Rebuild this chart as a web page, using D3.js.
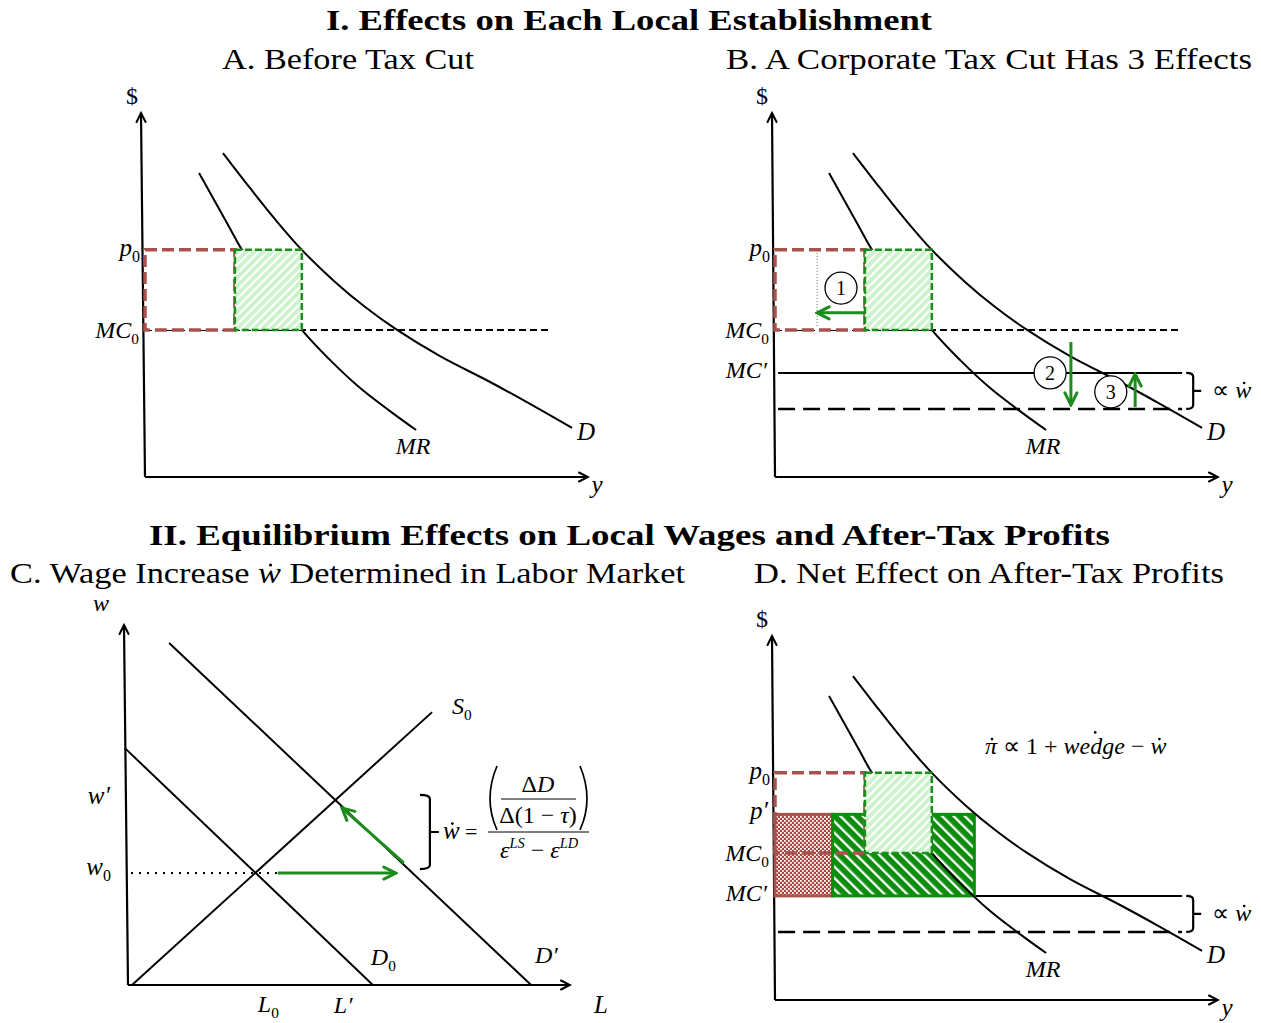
<!DOCTYPE html>
<html><head><meta charset="utf-8">
<script src="https://cdn.jsdelivr.net/npm/d3@7/dist/d3.min.js"></script>
<style>
html,body{margin:0;padding:0;background:#fff;}
svg text{font-family:"Liberation Serif","Times New Roman",serif;fill:#000;}
</style></head>
<body>
<svg id="chart" width="1261" height="1023" xmlns="http://www.w3.org/2000/svg"></svg>
<script>
// ================= DATA =================
const sectionTitles = ["I. Effects on Each Local Establishment", "II. Equilibrium Effects on Local Wages and After-Tax Profits"];
const panelTitles = ["A. Before Tax Cut", "B. A Corporate Tax Cut Has 3 Effects", "C. Wage Increase ", "w", " Determined in Labor Market", "D. Net Effect on After-Tax Profits"];

// product market (quantity y, price $), units 0..100
const mrCurve = [[12.2,83.5],[15.6,76.1],[19.0,68.7],[21.9,62.4],[35.4,40.4],[41.8,32.1],[48.5,24.5],[55.3,18.1],[61.2,12.9]];
const demandCurve = [[17.6,89.0],[23.7,79.4],[29.3,70.9],[35.4,62.4],[42.9,53.6],[49.7,46.7],[56.9,40.4],[66.6,33.2],[77.9,26.1],[86.9,20.1],[96.4,13.5]];
const priceP0 = 62.4, pricePprime = 51.0, costMC0 = 40.4, costMCprime = 28.6, costLow = 18.7;
const qRedEnd = 20.3, qGreenEnd = 35.4, qDotted = 9.5, qCheckEnd = 13.0, qNewEnd = 45.0;
const mc0LineEnd = 91.4, mcLinesStart = 0.7, mcLinesEnd = 91.9;
const circleNums = ["1","2","3"];
const circlePos = [[14.9,51.9],[62.1,28.6],[75.8,23.4]];
const arrow1 = [[20.5,45.1],[9.5,45.1]];
const arrow2 = [[66.8,37.1],[66.8,19.8]];
const arrow3 = [[81.3,19.2],[81.3,28.3]];
const braceQ = 94.4;

// labor market (L, w), units 0..100
const laborSupply = [[0.9,0],[68.8,75.8]];
const laborDemand0 = [[-0.7,65.8],[55.4,0]];
const laborDemand1 = [[9.3,95],[91.2,0]];
const wage0 = 31.1, wagePrime = 51.4, labor0 = 28.7, laborPrime = 46.8;
const wageDottedEnd = 62.2;
const wageArrowH = [[33.9,31.1],[60.6,31.1]];
const wageArrowD = [[62.4,33.9],[48.4,49.2]];
const braceL = 68.3, braceW = [52.8, 32.2];

// ================= SETUP =================
const RED = "#a8524c", GREEN = "#1c8c1c", DKGREEN = "#0d8d0d";
const svg = d3.select("#chart");
const defs = svg.append("defs");

function stripes(id, period, angle, bg, fg, w){
  const p = defs.append("pattern").attr("id",id).attr("patternUnits","userSpaceOnUse")
    .attr("width",period).attr("height",period).attr("patternTransform",`rotate(${angle})`);
  p.append("rect").attr("width",period).attr("height",period).attr("fill",bg);
  p.append("rect").attr("width",w).attr("height",period).attr("fill",fg);
}
stripes("lightHatch", 6, 45, "#cdf3cd", "#ffffff", 2);
stripes("darkHatch", 8, -45, DKGREEN, "#ffffff", 2.3);
const chk = defs.append("pattern").attr("id","checker").attr("patternUnits","userSpaceOnUse").attr("width",4).attr("height",4);
chk.append("rect").attr("width",4).attr("height",4).attr("fill","#a8473f");
chk.append("rect").attr("width",1.8).attr("height",1.8).attr("fill","#fff");
chk.append("rect").attr("x",2).attr("y",2).attr("width",1.8).attr("height",1.8).attr("fill","#fff");

function marker(id, color, size, sw){
  const m = defs.append("marker").attr("id",id).attr("viewBox",`0 0 ${size} ${size}`)
    .attr("refX",size-2).attr("refY",size/2).attr("markerWidth",size).attr("markerHeight",size)
    .attr("markerUnits","userSpaceOnUse").attr("orient","auto");
  m.append("path").attr("d",`M2,2 L${size-2},${size/2} L2,${size-2}`).attr("fill","none")
    .attr("stroke",color).attr("stroke-width",sw).attr("stroke-linecap","round");
}
marker("axArrow","#000",13,2);
marker("grArrow",GREEN,16,3);

function makeScales(xr, yr){
  return {x: d3.scaleLinear().domain([0,100]).range(xr), y: d3.scaleLinear().domain([0,100]).range(yr)};
}
const scA = makeScales([145,588],[477,113]);
const scB = makeScales([775,1218],[477,113]);
const scC = makeScales([128,570],[985,625]);
const scD = makeScales([775,1218],[1000,636]);

function label(x, y, parts, size, anchor){
  const t = svg.append("text").attr("x",x).attr("y",y).attr("font-size",size).attr("text-anchor",anchor||"start");
  let cur = 0;
  parts.forEach(([txt, style])=>{
    const ts = t.append("tspan").text(txt);
    let target = 0, fs = size;
    if (style.includes("i")) ts.attr("font-style","italic");
    if (style.includes("s")) {target = size*0.25; fs = size*0.64;}
    if (style.includes("^")) {target = -size*0.42; fs = size*0.6;}
    ts.attr("font-size", fs);
    if (target !== cur) ts.attr("dy", target-cur);
    cur = target;
  });
  return t;
}
function addDot(t, idx, baseline, size, up, shift){
  const e = t.node().getExtentOfChar(idx);
  svg.append("circle").attr("cx", e.x + e.width/2 + (shift||0)).attr("cy", baseline - up*size)
    .attr("r", Math.max(1.2,size*0.055)).attr("fill","#000");
}
function axes(sc, tilt){
  svg.append("line").attr("x1",sc.x(0)).attr("y1",sc.y(0)).attr("x2",sc.x(0)-tilt).attr("y2",sc.y(100))
    .attr("stroke","#000").attr("stroke-width",2.2).attr("marker-end","url(#axArrow)");
  svg.append("line").attr("x1",sc.x(0)).attr("y1",sc.y(0)).attr("x2",sc.x(100)).attr("y2",sc.y(0))
    .attr("stroke","#000").attr("stroke-width",2.2).attr("marker-end","url(#axArrow)");
}
function curve(sc, pts, linear){
  const gen = d3.line().x(d=>sc.x(d[0])).y(d=>sc.y(d[1])).curve(linear ? d3.curveLinear : d3.curveCatmullRom.alpha(0.5));
  svg.append("path").attr("d",gen(pts)).attr("fill","none").attr("stroke","#000").attr("stroke-width",2);
}
function hline(sc, x0, x1, yv, dash, w){
  svg.append("line").attr("x1",sc.x(x0)).attr("x2",sc.x(x1)).attr("y1",sc.y(yv)).attr("y2",sc.y(yv))
    .attr("stroke","#000").attr("stroke-width",w||2).attr("stroke-dasharray",dash||null);
}
function box(sc, x0, x1, y0, y1, fill, stroke, sw, dash){
  svg.append("rect").attr("x",sc.x(x0)).attr("y",sc.y(y1)).attr("width",sc.x(x1)-sc.x(x0)).attr("height",sc.y(y0)-sc.y(y1))
    .attr("fill",fill).attr("stroke",stroke).attr("stroke-width",sw).attr("stroke-dasharray",dash||null);
}
function garrow(sc, pts){
  svg.append("line").attr("x1",sc.x(pts[0][0])).attr("y1",sc.y(pts[0][1])).attr("x2",sc.x(pts[1][0])).attr("y2",sc.y(pts[1][1]))
    .attr("stroke",GREEN).attr("stroke-width",3).attr("marker-end","url(#grArrow)");
}
function circ(sc, p, n){
  svg.append("circle").attr("cx",sc.x(p[0])).attr("cy",sc.y(p[1])).attr("r",16).attr("fill","#fff").attr("stroke","#000").attr("stroke-width",1.3);
  svg.append("text").attr("x",sc.x(p[0])).attr("y",sc.y(p[1])+7).attr("text-anchor","middle").attr("font-size",20).text(n);
}
function brace(x, y1, y2, arm, tick){
  const ym = (y1+y2)/2;
  svg.append("path").attr("d",`M${x-arm},${y1} Q${x},${y1} ${x},${y1+4} L${x},${y2-4} Q${x},${y2} ${x-arm},${y2} M${x},${ym} L${x+tick},${ym}`)
    .attr("fill","none").attr("stroke","#000").attr("stroke-width",2.2);
}
function propW(x, baseline){
  const t = label(x, baseline, [["∝ ",""],["w","i"]], 24, "start");
  addDot(t, 2, baseline, 24, 0.62, 1);
}
function productLabels(sc){
  label(sc.x(0)-13, sc.y(100)-9, [["$",""]], 24, "middle");
  label(sc.x(100)+9, sc.y(0)+16, [["y","i"]], 25, "middle");
  label(sc.x(0)-5, sc.y(priceP0)+6, [["p","i"],["0","s"]], 25, "end");
  label(sc.x(0)-6, sc.y(costMC0)+8, [["MC","i"],["0","s"]], 24, "end");
  const mrEnd = mrCurve[mrCurve.length-1], dEnd = demandCurve[demandCurve.length-1];
  label(sc.x(mrEnd[0])-3, sc.y(mrEnd[1])+24, [["MR","i"]], 24, "middle");
  label(sc.x(dEnd[0])+14, sc.y(dEnd[1])+12, [["D","i"]], 25, "middle");
}

// ================= TITLES =================
function title(txt, cx, baseline, len, bold){
  svg.append("text").attr("x",cx).attr("y",baseline).attr("text-anchor","middle").attr("font-size",29)
    .attr("font-weight",bold?"bold":"normal").attr("textLength",len).attr("lengthAdjust","spacingAndGlyphs").text(txt);
}
title(sectionTitles[0], 629, 30, 606, true);
title(panelTitles[0], 348, 69, 252);
title(panelTitles[1], 989, 69, 526);
title(sectionTitles[1], 629.5, 545, 961, true);
title(panelTitles[5], 989, 583, 470);
{
  const t = svg.append("text").attr("x",347.5).attr("y",583).attr("text-anchor","middle").attr("font-size",29)
    .attr("textLength",675).attr("lengthAdjust","spacingAndGlyphs");
  t.append("tspan").text(panelTitles[2]);
  t.append("tspan").attr("font-style","italic").text(panelTitles[3]);
  t.append("tspan").text(panelTitles[4]);
  addDot(t, panelTitles[2].length, 583, 29, 0.62, 1);
}

// ================= PANEL A =================
axes(scA, 4);
hline(scA, 0, mc0LineEnd, costMC0, "7,4", 2);
curve(scA, mrCurve); curve(scA, demandCurve);
box(scA, 0, qRedEnd, costMC0, priceP0, "#fff", RED, 3.5, "12,5");
box(scA, qRedEnd, qGreenEnd, costMC0, priceP0, "url(#lightHatch)", GREEN, 2.5, "7,3");
productLabels(scA);

// ================= PANEL B =================
axes(scB, 3);
hline(scB, 0, mc0LineEnd, costMC0, "7,4", 2);
hline(scB, mcLinesStart, mcLinesEnd, costMCprime, null, 2);
hline(scB, mcLinesStart, mcLinesEnd, costLow, "17,8", 2.5);
curve(scB, mrCurve); curve(scB, demandCurve);
box(scB, 0, qRedEnd, costMC0, priceP0, "#fff", RED, 3.5, "12,5");
box(scB, qRedEnd, qGreenEnd, costMC0, priceP0, "url(#lightHatch)", GREEN, 2.5, "7,3");
svg.append("line").attr("x1",scB.x(qDotted)).attr("x2",scB.x(qDotted)).attr("y1",scB.y(priceP0)+3).attr("y2",scB.y(costMC0)-3)
  .attr("stroke","#666").attr("stroke-width",1).attr("stroke-dasharray","1,2");
garrow(scB, arrow1); garrow(scB, arrow2); garrow(scB, arrow3);
circlePos.forEach((p,i)=>circ(scB, p, circleNums[i]));
brace(scB.x(braceQ), scB.y(costMCprime), scB.y(costLow), 7, 8);
propW(scB.x(braceQ)+19, (scB.y(costMCprime)+scB.y(costLow))/2+7);
productLabels(scB);
label(scB.x(0)-8, scB.y(costMCprime)+5, [["MC′","i"]], 24, "end");

// ================= PANEL C =================
axes(scC, 4);
svg.append("line").attr("x1",scC.x(0)+3).attr("x2",scC.x(wageDottedEnd)).attr("y1",scC.y(wage0)).attr("y2",scC.y(wage0))
  .attr("stroke","#000").attr("stroke-width",2).attr("stroke-dasharray","2,6");
curve(scC, laborSupply, true); curve(scC, laborDemand0, true); curve(scC, laborDemand1, true);
garrow(scC, wageArrowH); garrow(scC, wageArrowD);
brace(scC.x(braceL), scC.y(braceW[0]), scC.y(braceW[1]), 10, 9);
label(scC.x(0)-27, scC.y(100)-14, [["w","i"]], 24, "middle");
label(scC.x(100)+31, scC.y(0)+28, [["L","i"]], 25, "middle");
label(scC.x(0)-18, scC.y(wagePrime)+4, [["w′","i"]], 25, "end");
label(scC.x(0)-17, scC.y(wage0)+2, [["w","i"],["0","s"]], 25, "end");
label(scC.x(labor0)+3, scC.y(0)+27, [["L","i"],["0","s"]], 24, "start");
label(scC.x(laborPrime)-1, scC.y(0)+28, [["L′","i"]], 24, "start");
{
  const s = laborSupply[1], d0 = laborDemand0[1], d1 = laborDemand1[1];
  label(scC.x(s[0])+20, scC.y(s[1])+2, [["S","i"],["0","s"]], 24, "start");
  label(scC.x(d0[0])-2, scC.y(d0[1])-20, [["D","i"],["0","s"]], 24, "start");
  label(scC.x(d1[0])+4, scC.y(d1[1])-22, [["D′","i"]], 24, "start");
}
// formula
{
  const t = label(443, 839, [["w","i"]], 25, "start");
  addDot(t, 0, 839, 25, 0.62, 1);
  label(465, 839, [["=",""]], 22, "start");
  svg.append("line").attr("x1",488).attr("x2",589).attr("y1",832).attr("y2",832).attr("stroke","#000").attr("stroke-width",1.2);
  svg.append("path").attr("d","M497,766 Q483,799 497,830 M580,766 Q594,799 580,830").attr("fill","none").attr("stroke","#000").attr("stroke-width",1.7);
  label(538, 792, [["Δ",""],["D","i"]], 24, "middle");
  svg.append("line").attr("x1",501).attr("x2",576).attr("y1",799).attr("y2",799).attr("stroke","#000").attr("stroke-width",1.2);
  label(538, 823, [["Δ(1 − ",""],["τ","i"],[")",""]], 24, "middle");
  label(539, 858, [["ε","i"],["LS","i^"],[" − ",""],["ε","i"],["LD","i^"]], 24, "middle");
}

// ================= PANEL D =================
axes(scD, 3);
hline(scD, mcLinesStart, mcLinesEnd, costMCprime, null, 2);
hline(scD, mcLinesStart, mcLinesEnd, costLow, "17,8", 2.5);
box(scD, 0, qCheckEnd, costMCprime, pricePprime, "url(#checker)", RED, 3, null);
box(scD, qCheckEnd, qNewEnd, costMCprime, pricePprime, "url(#darkHatch)", DKGREEN, 3, null);
curve(scD, mrCurve); curve(scD, demandCurve);
box(scD, 0, qRedEnd, costMC0, priceP0, "none", RED, 3.5, "12,5");
box(scD, qRedEnd, qGreenEnd, costMC0, priceP0, "url(#lightHatch)", GREEN, 2.5, "7,3");
brace(scD.x(braceQ), scD.y(costMCprime), scD.y(costLow), 7, 8);
propW(scD.x(braceQ)+19, (scD.y(costMCprime)+scD.y(costLow))/2+7);
productLabels(scD);
label(scD.x(0)-7, scD.y(pricePprime)+5, [["p′","i"]], 25, "end");
label(scD.x(0)-8, scD.y(costMCprime)+5, [["MC′","i"]], 24, "end");
{
  const t = label(985, 754, [["π","i"],[" ∝ 1 + ",""],["wedge","i"],[" − ",""],["w","i"]], 24, "start");
  addDot(t, 0, 754, 24, 0.62, 1);
  addDot(t, 10, 754, 24, 0.9, -1);
  addDot(t, 16, 754, 24, 0.62, 1);
}
</script>
</body></html>
